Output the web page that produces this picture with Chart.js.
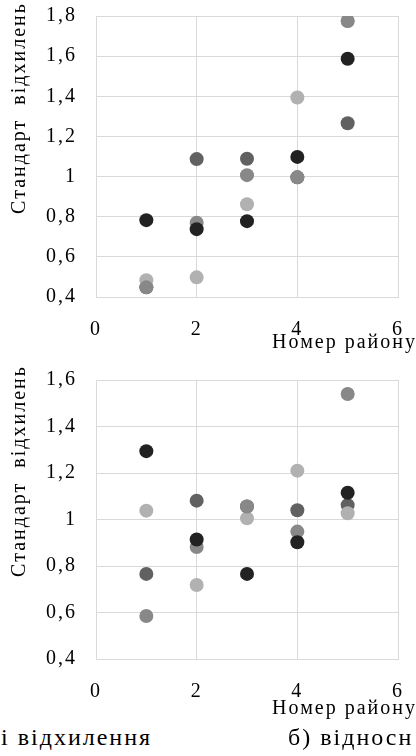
<!DOCTYPE html>
<html><head><meta charset="utf-8">
<script src="https://cdn.jsdelivr.net/npm/chart.js@4.4.0/dist/chart.umd.min.js"></script>
<style>
html,body{margin:0;padding:0;background:#fff;}
body{width:416px;height:756px;position:relative;overflow:hidden;font-family:"Liberation Serif","Times New Roman",serif;color:#000;}
canvas{position:absolute;left:0;}
.t{position:absolute;white-space:pre;font-size:20px;letter-spacing:2px;line-height:24px;}
.ytitle{width:240px;height:24px;text-align:center;transform:rotate(-90deg);}
.cap{position:absolute;white-space:pre;font-size:24px;letter-spacing:2px;line-height:28px;}
</style></head><body>
<canvas id="c1" width="416" height="360" style="top:0"></canvas>
<canvas id="c2" width="416" height="360" style="top:360px"></canvas>
<div class="t ytitle" style="left:-102px;top:96px">Стандарт  відхилень</div>
<div class="t ytitle" style="left:-102px;top:459px">Стандарт  відхилень</div>
<div class="t" style="right:-1px;top:329px">Номер району</div>
<div class="t" style="right:-1px;top:695px">Номер району</div>
<div class="cap" style="left:1px;top:723px">і відхилення</div>
<div class="cap" style="left:288px;top:723px">б) відносн</div>
<script>
// ---- data ----
const districts = [1, 2, 3, 4, 5];
const xTickValues = [0, 2, 4, 6];
const xTickLabels = ['0', '2', '4', '6'];

// chart а) (top)
const topBlack = [0.783, 0.738, 0.778, 1.098, 1.587];
const topMid   = [0.448, 0.770, 1.007, 0.996, 1.775];
const topLight = [0.484, 0.498, 0.862, 1.394, 1.775];
const topDark  = [0.448, 1.087, 1.089, 0.996, 1.266];
const yTickValuesTop = [0.4, 0.6, 0.8, 1.0, 1.2, 1.4, 1.6, 1.8];
const yTickLabelsTop = ['0,4', '0,6', '0,8', '1', '1,2', '1,4', '1,6', '1,8'];

// chart б) (bottom)
const botBlack = [1.294, 0.914, 0.766, 0.902, 1.115];
const botMid   = [0.585, 0.882, 1.056, 0.948, 1.540];
const botLight = [1.038, 0.718, 1.005, 1.210, 1.027];
const botDark  = [0.766, 1.081, 1.056, 1.040, 1.062];
const yTickValuesBot = [0.4, 0.6, 0.8, 1.0, 1.2, 1.4, 1.6];
const yTickLabelsBot = ['0,4', '0,6', '0,8', '1', '1,2', '1,4', '1,6'];

const COLORS = {black: '#222222', mid: '#888888', light: '#b1b1b1', dark: '#616161'};
const FONT = {family: '"Liberation Serif", "Times New Roman", serif', size: 20};
const GRID = '#d9d9d9';

const spacingPlugin = {id: 'spacing', beforeDraw(chart) { chart.ctx.letterSpacing = '2px'; }};

function pts(vals) { return districts.map((x, i) => ({x: x, y: vals[i]})); }

function ds(vals, color) {
  return {data: pts(vals), backgroundColor: color, borderWidth: 0, pointRadius: 7, pointHoverRadius: 7, showLine: false};
}

function makeChart(id, series, yVals, yLabels, padTop, xHeight) {
  new Chart(document.getElementById(id), {
    type: 'scatter',
    data: {datasets: [
      ds(series[0], COLORS.black),
      ds(series[1], COLORS.mid),
      ds(series[2], COLORS.light),
      ds(series[3], COLORS.dark)
    ]},
    options: {
      responsive: false, animation: false, devicePixelRatio: 1,
      layout: {padding: {top: padTop, right: 18, left: 0, bottom: 0}},
      plugins: {legend: {display: false}, tooltip: {enabled: false}},
      scales: {
        x: {
          type: 'linear', min: 0, max: 6,
          afterBuildTicks(s) { s.ticks = xTickValues.map(v => ({value: v})); },
          afterFit(s) { s.height = xHeight; s.paddingLeft = 0; s.paddingRight = 0; },
          ticks: {font: FONT, color: '#000', padding: 21, maxRotation: 0,
                  callback: (v) => xTickLabels[xTickValues.indexOf(v)]},
          grid: {color: GRID, drawTicks: false},
          border: {color: GRID}
        },
        y: {
          type: 'linear', min: yVals[0], max: yVals[yVals.length - 1],
          afterBuildTicks(s) { s.ticks = yVals.map(v => ({value: v})); },
          afterFit(s) { s.width = 96; s.paddingTop = 0; s.paddingBottom = 0; },
          ticks: {font: FONT, color: '#000', padding: 19,
                  callback: (v) => { const i = yVals.findIndex(t => Math.abs(t - v) < 1e-6); return i >= 0 ? yLabels[i] : ''; }},
          grid: {color: GRID, drawTicks: false},
          border: {color: GRID}
        }
      }
    },
    plugins: [spacingPlugin]
  });
}

makeChart('c1', [topBlack, topMid, topLight, topDark], yTickValuesTop, yTickLabelsTop, 16, 63);
makeChart('c2', [botBlack, botMid, botLight, botDark], yTickValuesBot, yTickLabelsBot, 20, 61);
</script>
</body></html>
